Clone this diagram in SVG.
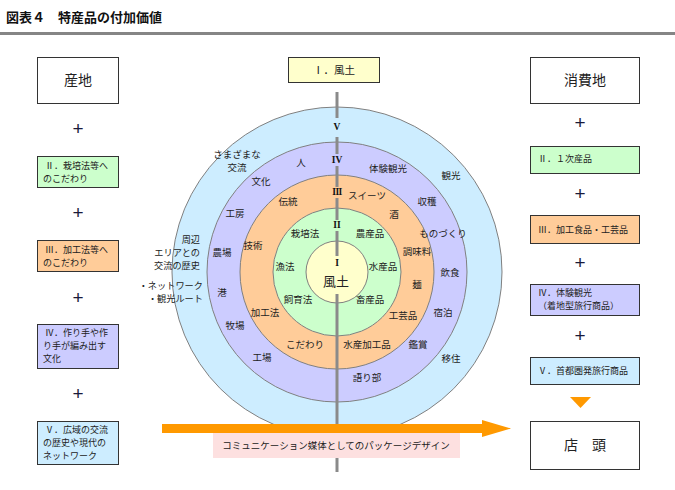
<svg xmlns="http://www.w3.org/2000/svg" width="675" height="490" viewBox="0 0 675 490">
<style>
text{font-family:"Noto Sans CJK JP","Liberation Sans",sans-serif;fill:#222}
.lb{font-size:9.5px;text-anchor:middle}
.sd{font-size:9.2px;text-anchor:end}
.bx{font-size:9px}
.hd{font-size:14px;text-anchor:middle}
.pl{font-family:"Liberation Sans",sans-serif;font-size:19px;text-anchor:middle;fill:#1a1a3a}
.rn{font-family:"Liberation Serif",serif;font-weight:bold;font-size:9.5px;text-anchor:middle;fill:#111}
.box{stroke:#333;stroke-width:1}
.ring{stroke:#808080;stroke-width:1}
</style>
<rect width="675" height="490" fill="#fff"/>
<text x="6" y="22" style="font-size:13px;font-weight:bold;fill:#111">図表４　特産品の付加価値</text>
<rect x="0" y="32" width="675" height="3" fill="#858585"/>

<g id="circles">
<circle cx="337" cy="272" r="165" fill="#cdedff" class="ring"/>
<circle cx="337" cy="272" r="130" fill="#ccccff" class="ring"/>
<circle cx="337" cy="272" r="97" fill="#ffcc99" class="ring"/>
<circle cx="337" cy="272" r="64" fill="#ccffcc" class="ring"/>
<circle cx="337" cy="272" r="31" fill="#ffffcc" class="ring"/>
</g>

<g id="axis" stroke="#8a8a8a" stroke-width="3">
<line x1="337" y1="92" x2="337" y2="118"/>
<line x1="337" y1="137" x2="337" y2="154"/>
<line x1="337" y1="166" x2="337" y2="187"/>
<line x1="337" y1="198" x2="337" y2="220"/>
<line x1="337" y1="231" x2="337" y2="256"/>
<line x1="337" y1="294" x2="337" y2="472"/>
</g>
<g id="numerals">
<text class="rn" x="337" y="130">V</text>
<text class="rn" x="337" y="163">IV</text>
<text class="rn" x="337" y="195" letter-spacing="-0.5">III</text>
<text class="rn" x="337" y="228">II</text>
<text class="rn" x="337" y="266">I</text>
</g>

<g id="ring-labels">
<text class="lb" x="336" y="286" style="font-size:13px">風土</text>
<text class="lb" x="237" y="158">さまざまな</text>
<text class="lb" x="237" y="171">交流</text>
<text class="lb" x="301" y="166">人</text>
<text class="lb" x="261" y="185">文化</text>
<text class="lb" x="288" y="205">伝統</text>
<text class="lb" x="235" y="217">工房</text>
<text class="lb" x="305" y="237">栽培法</text>
<text class="lb" x="253" y="249">技術</text>
<text class="lb" x="222" y="256">農場</text>
<text class="sd" x="200" y="243">周辺</text>
<text class="sd" x="200" y="256">エリアとの</text>
<text class="sd" x="200" y="269">交流の歴史</text>
<text class="sd" x="203" y="289">・ネットワーク</text>
<text class="sd" x="203" y="302">・観光ルート</text>
<text class="lb" x="285" y="270">漁法</text>
<text class="lb" x="222" y="296">港</text>
<text class="lb" x="298" y="303">飼育法</text>
<text class="lb" x="265" y="316">加工法</text>
<text class="lb" x="235" y="329">牧場</text>
<text class="lb" x="305" y="348">こだわり</text>
<text class="lb" x="262" y="361">工場</text>
<text class="lb" x="388" y="172">体験観光</text>
<text class="lb" x="451" y="179">観光</text>
<text class="lb" x="367" y="199">スイーツ</text>
<text class="lb" x="427" y="205">収穫</text>
<text class="lb" x="394" y="218">酒</text>
<text class="lb" x="370" y="237">農産品</text>
<text class="lb" x="443" y="237">ものづくり</text>
<text class="lb" x="417" y="255">調味料</text>
<text class="lb" x="383" y="270">水産品</text>
<text class="lb" x="450" y="276">飲食</text>
<text class="lb" x="417" y="288">麺</text>
<text class="lb" x="370" y="303">畜産品</text>
<text class="lb" x="443" y="316">宿泊</text>
<text class="lb" x="403" y="319">工芸品</text>
<text class="lb" x="367" y="348">水産加工品</text>
<text class="lb" x="418" y="348">鑑賞</text>
<text class="lb" x="451" y="362">移住</text>
<text class="lb" x="367" y="381">語り部</text>
</g>

<g id="fudo-box">
<rect x="288.5" y="57.5" width="91" height="25" fill="#ffffcc" class="box"/>
<text x="334" y="74" style="font-size:10.5px;text-anchor:middle">Ⅰ．風土</text>
</g>

<g id="arrow">
<rect x="162" y="424" width="322" height="9" fill="#ff9900"/>
<polygon points="482,420 511,428.5 482,437" fill="#ff9900"/>
</g>
<g id="package-label">
<rect x="213" y="433" width="247" height="25" fill="#fde0e0"/>
<text x="336" y="448.5" class="lb">コミュニケーション媒体としてのパッケージデザイン</text>
</g>

<g id="left-column">
<g id="sanchi"><rect x="37.5" y="57.5" width="81" height="46" fill="#fff" class="box"/><text class="hd" x="78" y="85">産地</text></g>
<text class="pl" x="78" y="135">+</text>
<g id="l2"><rect x="37.5" y="156.5" width="81" height="31" fill="#ccffcc" class="box"/><text class="bx" x="45" y="168.5">Ⅱ．栽培法等へ</text><text class="bx" x="43" y="181.5">のこだわり</text></g>
<text class="pl" x="78" y="219">+</text>
<g id="l3"><rect x="37.5" y="240.5" width="81" height="31" fill="#ffcc99" class="box"/><text class="bx" x="45" y="252.5">Ⅲ．加工法等へ</text><text class="bx" x="43" y="265.5">のこだわり</text></g>
<text class="pl" x="78" y="304">+</text>
<g id="l4"><rect x="37.5" y="324.5" width="81" height="44" fill="#ccccff" class="box"/><text class="bx" x="45" y="335.5">Ⅳ．作り手や作</text><text class="bx" x="43" y="348.5">り手が編み出す</text><text class="bx" x="43" y="361.5">文化</text></g>
<text class="pl" x="78" y="400">+</text>
<g id="l5"><rect x="37.5" y="421.5" width="81" height="43" fill="#cdedff" class="box"/><text class="bx" x="45" y="432.5">Ⅴ．広域の交流</text><text class="bx" x="43" y="445.5">の歴史や現代の</text><text class="bx" x="43" y="458.5">ネットワーク</text></g>
</g>

<g id="right-column">
<g id="shohichi"><rect x="530.5" y="57.5" width="109" height="46" fill="#fff" class="box"/><text class="hd" x="585" y="85">消費地</text></g>
<text class="pl" x="580" y="129">+</text>
<g id="r2"><rect x="530.5" y="146.5" width="109" height="27" fill="#ccffcc" class="box"/><text class="bx" x="538" y="161.5">Ⅱ．１次産品</text></g>
<text class="pl" x="580" y="200">+</text>
<g id="r3"><rect x="530.5" y="215.5" width="109" height="28" fill="#ffcc99" class="box"/><text class="bx" x="538" y="232.5">Ⅲ．加工食品・工芸品</text></g>
<text class="pl" x="580" y="269">+</text>
<g id="r4"><rect x="530.5" y="284.5" width="109" height="31" fill="#ccccff" class="box"/><text class="bx" x="538" y="296">Ⅳ．体験観光</text><text class="bx" x="538" y="309">（着地型旅行商品）</text></g>
<text class="pl" x="580" y="342">+</text>
<g id="r5"><rect x="530.5" y="357.5" width="109" height="27" fill="#cdedff" class="box"/><text class="bx" x="538" y="373.5">Ⅴ．首都圏発旅行商品</text></g>
<polygon points="570,397 591,397 580.5,408" fill="#ff9900"/>
<g id="tento"><rect x="530.5" y="421.5" width="109" height="48" fill="#fff" class="box"/><text class="hd" x="585" y="450">店　頭</text></g>
</g>
</svg>
